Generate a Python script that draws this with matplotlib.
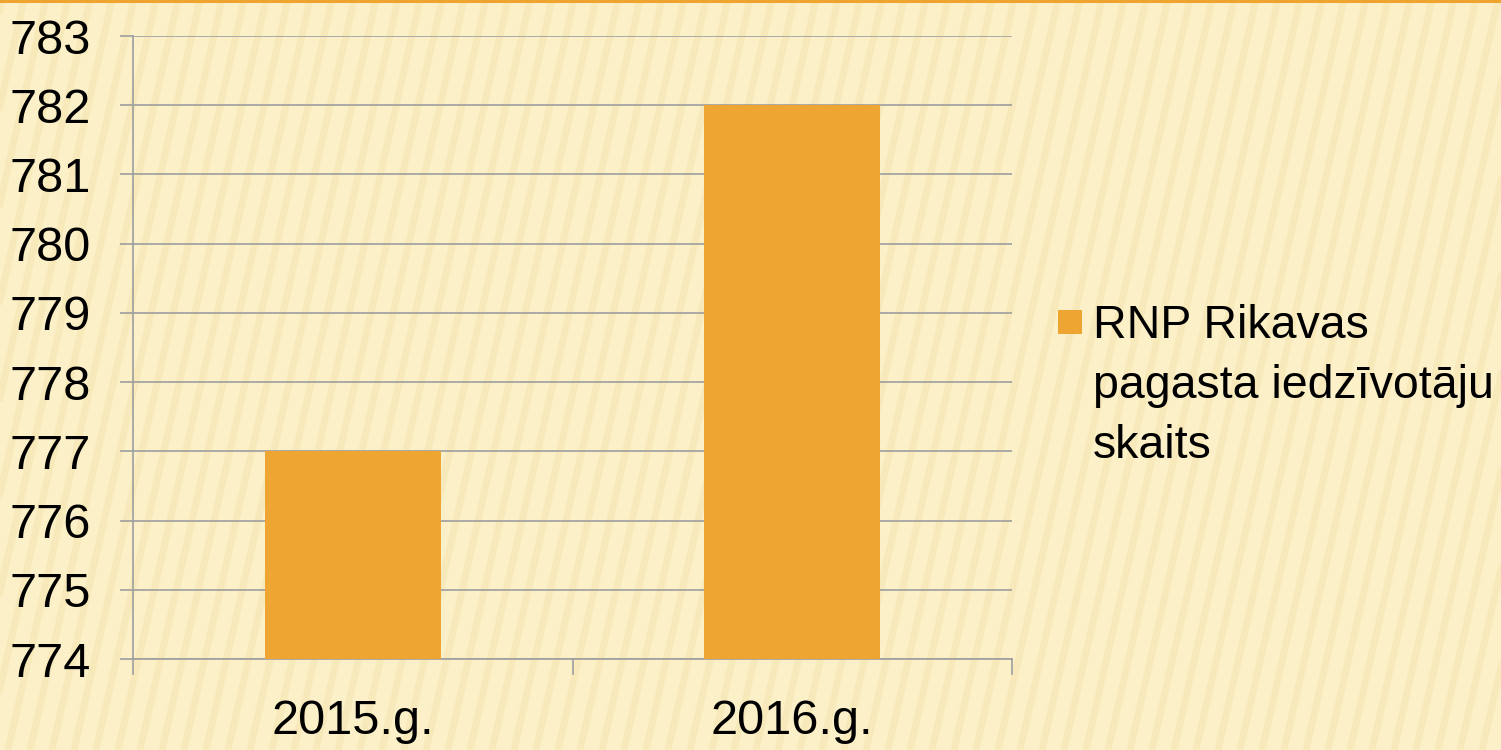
import matplotlib
matplotlib.use("Agg")
import matplotlib.pyplot as plt
from matplotlib.patches import Rectangle

categories = ["2015.g.", "2016.g."]
values = [777, 782]
series_lines = ["RNP Rikavas", "pagasta iedzīvotāju", "skaits"]
yticks = [774, 775, 776, 777, 778, 779, 780, 781, 782, 783]

BAR = '#EEA532'
GRID = '#9E9E9E'
plt.rcParams['font.family'] = ['Liberation Sans', 'DejaVu Sans']

fig = plt.figure(figsize=(15.01, 7.5), dpi=100)
fig.patch.set_facecolor('#FCF0C8')

# decorative background stripes (pixel coordinates)
bg = fig.add_axes([0, 0, 1, 1], zorder=-10)
bg.set_xlim(0, 1501)
bg.set_ylim(750, 0)
bg.axis('off')
for x0 in range(-300, 1600, 22):
    bg.plot([x0 + 170, x0], [0, 750], color='#F2DFA6', lw=5, alpha=0.4,
            solid_capstyle='butt', zorder=1)
bg.add_patch(Rectangle((0, 0), 1501, 3, color='#F0A430', lw=0, zorder=5))

# legend drawn in pixel coordinates
bg.add_patch(Rectangle((1058, 310), 24, 24, color=BAR, lw=0, zorder=5))
for i, line in enumerate(series_lines):
    bg.text(1093, 338 + i * 60, line, fontsize=33.5, va='baseline', ha='left',
            color='black', zorder=6)

ax = fig.add_axes([133/1501, 1-659/750, (1012-133)/1501, (659-36)/750])
ax.set_facecolor('none')
x = list(range(len(categories)))
ax.bar(x, values, width=0.4, color=BAR, zorder=3)
ax.set_ylim(774, 783)
ax.set_xlim(-0.5, 1.5)
ax.set_yticks(yticks)
ax.set_yticklabels([str(v) for v in yticks], fontsize=35)
ax.set_xticks(x)
ax.set_xticklabels(categories, fontsize=35)
ax.tick_params(axis='x', length=0, pad=29)
ax.tick_params(axis='y', length=9.5, width=1.2, color=GRID, pad=21)
ax.grid(axis='y', color=GRID, lw=1.2, zorder=0)
for s in ['top', 'right']:
    ax.spines[s].set_visible(False)
for s in ['left', 'bottom']:
    ax.spines[s].set_color(GRID)
    ax.spines[s].set_linewidth(1.2)
for xb in [-0.5, 0.5, 1.5]:
    ax.plot([xb, xb], [0, -0.024], transform=ax.get_xaxis_transform(), color=GRID,
            lw=1.2, clip_on=False)

fig.savefig("out.png", dpi=100, facecolor=fig.get_facecolor())
